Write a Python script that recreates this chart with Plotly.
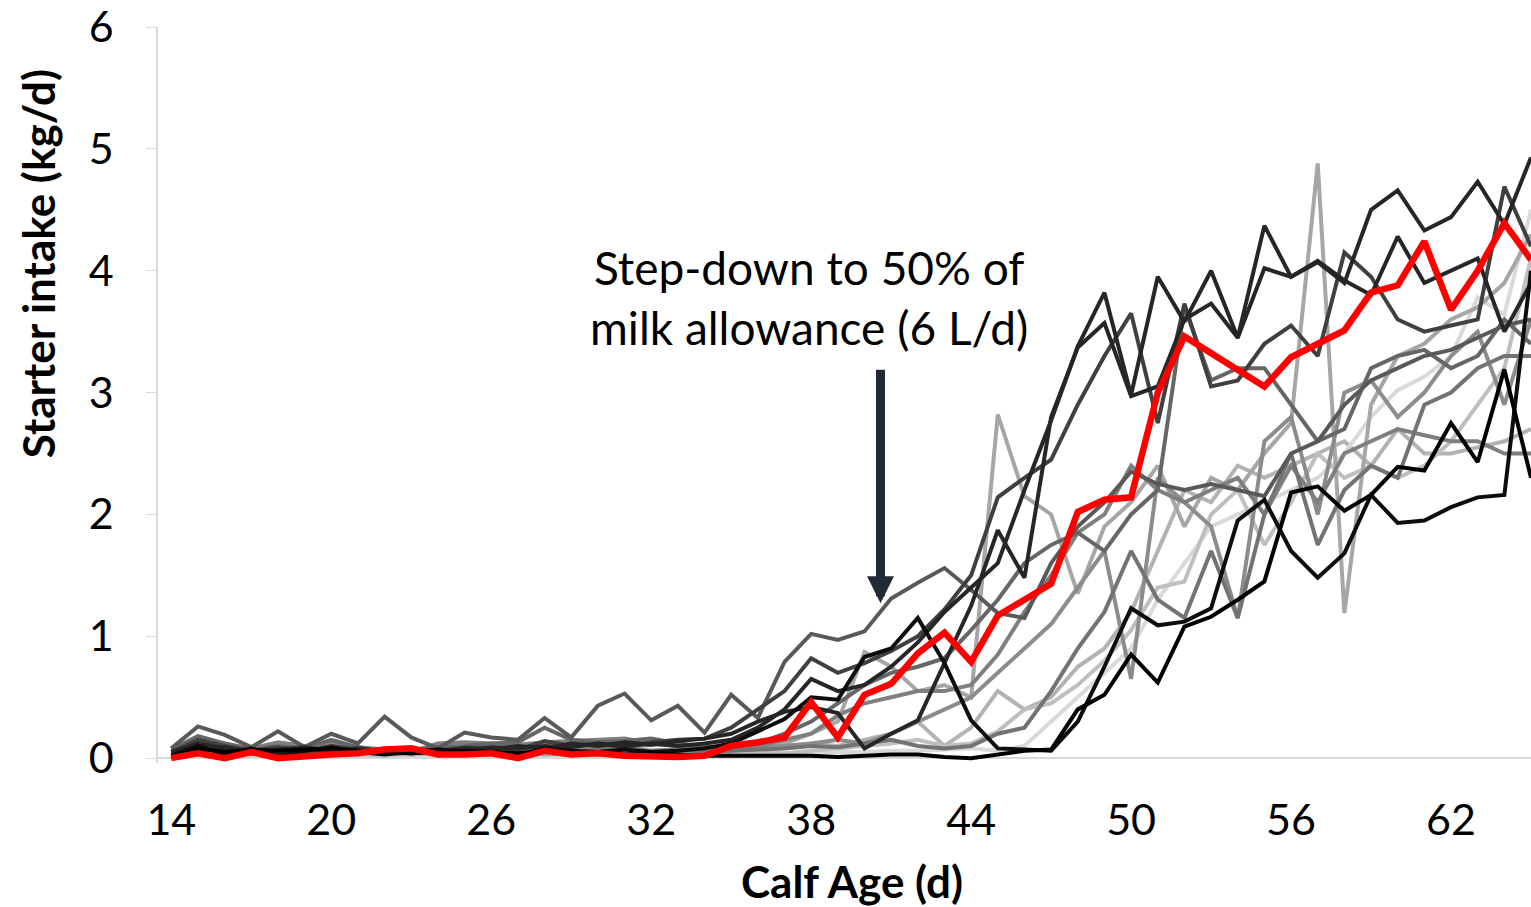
import plotly.graph_objects as go

days = list(range(14, 66))

mean_intake = [0.00,0.04,0.00,0.05,0.00,0.02,0.03,0.04,0.07,0.08,
               0.03,0.03,0.04,0.00,0.06,0.03,0.04,0.02,0.01,0.01,
               0.02,0.10,0.13,0.17,0.46,0.17,0.52,0.61,0.86,1.03,
               0.79,1.17,1.30,1.43,2.02,2.12,2.14,3.00,3.46,3.32,
               3.19,3.05,3.29,3.40,3.51,3.82,3.88,4.24,3.68,4.00,
               4.39,4.09]

calf_01 = [0.00,0.08,0.05,0.07,0.06,0.07,0.08,0.06,0.05,0.04,
           0.05,0.06,0.05,0.04,0.06,0.05,0.04,0.03,0.04,0.03,
           0.02,0.02,0.02,0.02,0.02,0.01,0.02,0.03,0.03,0.01,
           0.00,0.03,0.06,0.07,0.40,0.52,0.85,0.62,1.08,1.16,
           1.30,1.45,2.18,2.23,2.03,2.16,2.39,2.36,2.75,2.43,
           3.19,2.30]
calf_02 = [0.02,0.10,0.03,0.08,0.01,0.06,0.09,0.05,0.03,0.05,
           0.07,0.05,0.04,0.02,0.08,0.06,0.05,0.07,0.05,0.06,
           0.08,0.12,0.22,0.32,0.50,0.48,0.83,0.90,1.15,0.78,
           0.31,0.08,0.07,0.06,0.30,0.75,1.23,1.09,1.12,1.23,
           1.95,2.12,1.70,1.48,1.68,2.16,1.93,1.95,2.06,2.14,
           2.16,4.00]
calf_03 = [0.05,0.12,0.08,0.05,0.07,0.09,0.06,0.08,0.05,0.04,
           0.06,0.08,0.07,0.10,0.08,0.12,0.10,0.13,0.11,0.14,
           0.16,0.20,0.30,0.38,0.42,0.37,0.08,0.20,0.31,0.78,
           1.25,1.87,1.48,2.80,3.37,3.57,2.97,3.05,3.60,3.73,
           3.45,4.02,3.95,4.08,3.92,3.80,4.28,3.90,4.00,4.10,
           3.50,3.90]
calf_04 = [0.03,0.06,0.09,0.05,0.04,0.07,0.05,0.06,0.04,0.05,
           0.07,0.06,0.09,0.08,0.10,0.09,0.12,0.10,0.12,0.10,
           0.12,0.15,0.25,0.40,0.65,0.55,0.60,0.75,0.95,1.20,
           1.40,1.60,2.20,2.77,3.38,3.82,2.98,3.95,3.58,4.00,
           3.45,4.37,3.95,4.07,3.90,4.50,4.66,4.33,4.44,4.73,
           4.38,4.93]
calf_05 = [0.05,0.15,0.10,0.06,0.09,0.05,0.10,0.07,0.06,0.08,
           0.05,0.09,0.08,0.07,0.14,0.10,0.12,0.09,0.13,0.15,
           0.16,0.25,0.40,0.55,0.82,0.70,0.78,0.88,1.00,1.22,
           1.50,2.14,2.30,2.45,2.90,3.30,3.65,2.75,3.73,3.05,
           3.10,3.40,3.55,3.30,4.15,3.95,3.60,3.50,3.55,3.60,
           4.69,4.20]
calf_06 = [0.08,0.26,0.19,0.09,0.22,0.09,0.20,0.12,0.34,0.17,
           0.08,0.21,0.17,0.15,0.33,0.17,0.43,0.53,0.31,0.43,
           0.21,0.52,0.33,0.79,1.02,0.97,1.04,1.31,1.44,1.56,
           1.38,1.19,1.15,1.60,1.90,2.10,2.35,2.25,2.20,2.25,
           2.20,2.15,2.50,2.60,2.90,3.10,3.20,3.30,3.35,3.45,
           3.55,3.60]
calf_07 = [0.06,0.10,0.12,0.08,0.13,0.10,0.12,0.09,0.07,0.05,
           0.12,0.13,0.12,0.11,0.13,0.14,0.15,0.16,0.12,0.10,
           0.08,0.08,0.10,0.15,0.20,0.35,0.45,0.50,0.55,0.55,
           0.60,0.85,1.20,1.50,1.85,2.00,2.40,2.20,2.10,2.20,
           2.30,2.00,2.40,2.10,2.50,2.60,2.70,2.65,2.60,2.60,
           2.50,2.50]
calf_08 = [0.05,0.04,0.06,0.03,0.05,0.04,0.06,0.05,0.04,0.03,
           0.05,0.04,0.06,0.05,0.03,0.04,0.05,0.06,0.04,0.05,
           0.05,0.06,0.08,0.12,0.20,0.30,0.87,0.75,0.55,0.60,
           0.50,2.82,2.15,2.00,1.35,1.90,2.10,2.40,1.90,2.30,
           2.20,2.50,2.75,4.88,1.19,2.90,3.30,3.40,3.60,3.70,
           3.90,4.30]
calf_09 = [0.03,0.05,0.02,0.04,0.03,0.05,0.04,0.03,0.02,0.04,
           0.03,0.05,0.04,0.03,0.05,0.04,0.03,0.04,0.05,0.03,
           0.04,0.03,0.05,0.04,0.06,0.08,0.10,0.12,0.15,0.10,
           0.12,0.22,0.40,0.45,0.60,0.80,1.05,1.40,1.45,2.00,
           2.20,1.75,2.10,2.50,2.30,2.40,2.30,2.40,2.60,2.90,
           3.20,4.10]
calf_10 = [0.02,0.03,0.02,0.03,0.02,0.03,0.02,0.02,0.03,0.02,
           0.02,0.03,0.02,0.03,0.02,0.03,0.02,0.03,0.02,0.03,
           0.02,0.03,0.03,0.04,0.04,0.05,0.05,0.06,0.06,0.07,
           0.08,0.06,0.10,0.30,0.50,0.70,0.90,1.30,1.60,1.90,
           2.00,2.10,2.20,2.30,2.50,2.80,3.02,3.13,3.30,3.78,
           3.64,4.50]
calf_11 = [0.04,0.07,0.05,0.08,0.06,0.09,0.07,0.05,0.08,0.06,
           0.04,0.06,0.08,0.07,0.09,0.08,0.10,0.09,0.11,0.12,
           0.10,0.08,0.09,0.10,0.12,0.15,0.12,0.20,0.30,0.40,
           0.50,0.70,0.90,1.10,1.40,1.70,0.65,2.30,2.10,1.90,
           1.15,2.60,2.80,2.00,3.00,3.10,2.80,3.00,3.30,3.50,
           2.90,3.60]
calf_12 = [0.07,0.18,0.12,0.07,0.10,0.08,0.15,0.09,0.06,0.07,
           0.09,0.10,0.12,0.13,0.25,0.15,0.13,0.14,0.16,0.12,
           0.09,0.10,0.12,0.20,0.30,0.45,0.60,0.70,0.75,0.82,
           1.05,1.30,1.60,1.75,1.85,1.70,2.00,2.20,3.70,3.10,
           3.20,3.20,2.90,2.60,2.70,3.20,3.30,3.35,3.20,3.30,
           3.60,3.40]
calf_13 = [0.05,0.09,0.06,0.04,0.07,0.05,0.08,0.06,0.05,0.04,
           0.06,0.07,0.05,0.08,0.06,0.05,0.07,0.08,0.06,0.07,
           0.05,0.06,0.07,0.08,0.10,0.09,0.12,0.15,0.10,0.08,
           0.10,0.20,0.25,0.55,0.90,1.20,1.70,1.30,1.15,1.70,
           1.15,2.00,2.50,1.75,2.20,2.40,2.30,2.90,3.00,3.20,
           3.30,3.30]
calf_14 = [0.04,0.06,0.04,0.05,0.03,0.06,0.05,0.04,0.06,0.05,
           0.04,0.05,0.06,0.05,0.07,0.06,0.05,0.07,0.06,0.05,
           0.06,0.07,0.08,0.10,0.12,0.10,0.15,0.20,0.30,0.10,
           0.25,0.55,0.40,0.50,0.75,0.90,1.20,1.70,2.20,2.10,
           2.40,2.30,2.40,2.50,2.60,2.40,2.70,2.50,2.50,2.55,
           2.60,2.70]

calves = [calf_14, calf_10, calf_09, calf_08, calf_11, calf_07, calf_13,
          calf_12, calf_06, calf_05, calf_03, calf_04, calf_02, calf_01]
calf_colors = ["#b3b3b3", "#d9d9d9", "#bfbfbf", "#a6a6a6", "#8c8c8c", "#7f7f7f", "#737373",
               "#666666", "#595959", "#404040", "#262626", "#262626", "#0d0d0d", "#000000"]

x_ticks = [14, 20, 26, 32, 38, 44, 50, 56, 62]
y_ticks = [0, 1, 2, 3, 4, 5, 6]

FONT = "Lato"

fig = go.Figure()
for vals, col in zip(calves, calf_colors):
    fig.add_trace(go.Scatter(x=days, y=vals, mode="lines",
                             line=dict(color=col, width=4), hoverinfo="skip",
                             showlegend=False))
fig.add_trace(go.Scatter(x=days, y=mean_intake, mode="lines",
                         line=dict(color="#ff0000", width=6.5), showlegend=False))

fig.add_annotation(x=40.6, y=1.27, ax=40.6, ay=3.2, xref="x", yref="y",
                   axref="x", ayref="y", text="", showarrow=True,
                   arrowhead=2, arrowsize=0.6, arrowwidth=9, arrowcolor="#222a35")
fig.add_annotation(x=37.9, y=3.78, xref="x", yref="y",
                   text="Step-down to 50% of<br>milk allowance (6 L/d)",
                   showarrow=False, font=dict(family=FONT, size=46, color="#000000"),
                   align="center", xanchor="center", yanchor="middle")
fig.add_annotation(x=0.5055, y=-0.16, xref="paper", yref="paper",
                   text="<b>Calf Age (d)</b>", showarrow=False,
                   xanchor="center", yanchor="middle",
                   font=dict(family=FONT, size=44, color="#000000"))
fig.add_annotation(x=-0.0874, y=0.679, xref="paper", yref="paper",
                   text="<b>Starter intake (kg/d)</b>", textangle=-90, showarrow=False,
                   xanchor="center", yanchor="middle",
                   font=dict(family=FONT, size=44, color="#000000"))

fig.update_layout(
    width=1531, height=907,
    margin=dict(l=158, r=0, t=27, b=144),
    paper_bgcolor="white", plot_bgcolor="white",
    xaxis=dict(range=[13.5, 65.0], tickvals=x_ticks, ticktext=[str(v) for v in x_ticks],
               showgrid=False, zeroline=False, showline=False, ticks="",
               automargin=False,
               ticklabelstandoff=28, ticklabeloverflow="allow",
               tickfont=dict(family=FONT, size=43, color="#000000")),
    yaxis=dict(range=[-0.04, 6.0], tickvals=y_ticks, showgrid=False,
               zeroline=True, zerolinecolor="#d9d9d9", zerolinewidth=2,
               showline=True, linecolor="#d9d9d9", linewidth=1.5,
               ticks="outside", ticklen=10, tickcolor="#d9d9d9",
               automargin=False,
               ticklabelstandoff=24, ticklabeloverflow="allow",
               tickfont=dict(family=FONT, size=43, color="#000000")),
)

fig.write_html("out.html", config={"displayModeBar": False},
               post_script="document.body.style.margin='0px';document.body.style.overflow='hidden';")
